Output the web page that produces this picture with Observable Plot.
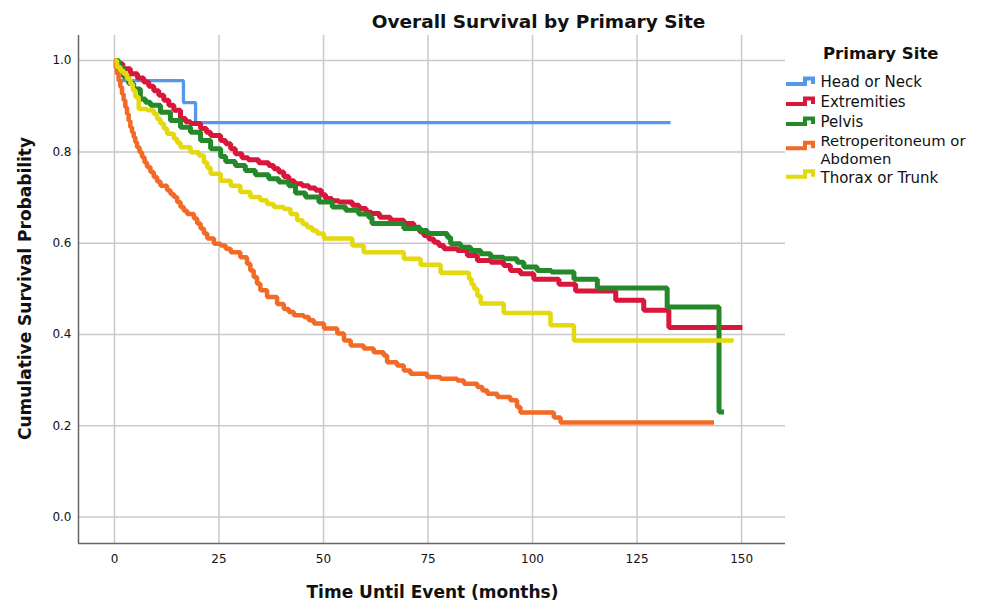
<!DOCTYPE html>
<html>
<head>
<meta charset="utf-8">
<script src="https://cdn.jsdelivr.net/npm/d3@7"></script>
<script src="https://cdn.jsdelivr.net/npm/@observablehq/plot@0.6"></script>
<style>
  html, body { margin: 0; padding: 0; background: #ffffff; }
  #chart { width: 986px; height: 603px; position: relative; }
  #chart svg g[aria-label*="axis"] text { font-family: "DejaVu Sans", sans-serif !important; font-size: 12px !important; fill: #111; }
</style>
</head>
<body>
<div id="chart"></div>
<script>
// ---- Data (months, cumulative survival) ----
const seriesNames = ["Head or Neck", "Extremities", "Pelvis", "Retroperitoneum or Abdomen", "Thorax or Trunk"];
const legendLines = [["Head or Neck"], ["Extremities"], ["Pelvis"], ["Retroperitoneum or", "Abdomen"], ["Thorax or Trunk"]];
const seriesColors = ["#5598e8", "#d9163c", "#25892a", "#f26a26", "#e4d80e"];

const headNeck = [[0,1.0],[1,0.956],[16.5,0.908],[19.4,0.864],[133,0.864]];

const extremities = [[0,1.0],[0.6,0.993],[2,0.982],[3.8,0.971],[5.5,0.962],[7,0.953],[8.2,0.944],[9.4,0.934],
  [10.6,0.924],[11.8,0.913],[13,0.902],[14.2,0.891],[15.8,0.873],[17,0.866],[18.2,0.862],[20.6,0.851],
  [22,0.843],[23,0.836],[25.4,0.825],[26.6,0.818],[27.8,0.807],[28.9,0.796],[30.5,0.787],[32,0.783],
  [34.5,0.776],[36.9,0.770],[38.1,0.763],[39.3,0.756],[40.5,0.746],[41.7,0.737],[43,0.730],[44.9,0.726],
  [46.5,0.721],[48.1,0.716],[49.5,0.706],[50.5,0.698],[52,0.693],[53.7,0.690],[56.9,0.683],[58.5,0.676],
  [60.2,0.668],[61.5,0.665],[63.4,0.657],[66,0.650],[69.2,0.643],[71.6,0.635],[73,0.625],[74,0.617],
  [75.2,0.609],[76.4,0.602],[77.6,0.595],[78.8,0.588],[82,0.584],[84.4,0.573],[86.8,0.562],[90,0.558],
  [93.1,0.551],[94.7,0.540],[97.1,0.533],[100.3,0.521],[106.3,0.510],[110.3,0.495],[119.9,0.475],
  [126.6,0.453],[132.6,0.415],[150.2,0.415]];

const pelvis = [[0,1.0],[1,0.985],[2.2,0.964],[3.4,0.950],[4.6,0.938],[6.2,0.916],[7.4,0.909],[8.6,0.902],
  [11,0.887],[13.4,0.869],[15.8,0.854],[18.2,0.843],[20.6,0.825],[23,0.807],[25.4,0.790],[26.6,0.779],
  [28.9,0.770],[31.3,0.759],[33.7,0.750],[36.9,0.741],[39.3,0.734],[41.7,0.726],[43.3,0.710],[45.7,0.701],
  [48.9,0.690],[52.1,0.679],[55.3,0.672],[58.4,0.664],[60.8,0.657],[61.6,0.643],[69.2,0.632],[73.2,0.628],
  [74.8,0.621],[79.6,0.613],[80.4,0.599],[82.8,0.591],[85.2,0.584],[87.6,0.577],[90,0.569],[93.1,0.566],
  [96.3,0.558],[97.9,0.548],[101.1,0.540],[104.5,0.537],[109.9,0.521],[115.5,0.502],[132.2,0.460],
  [144.6,0.230],[145.8,0.230]];

const retroAbdomen = [[0,1.0],[0.3,0.985],[0.6,0.971],[1,0.956],[1.4,0.942],[1.8,0.927],[2.2,0.913],[2.6,0.898],
  [3,0.883],[3.4,0.868],[3.8,0.854],[4.2,0.843],[4.6,0.832],[5,0.821],[5.4,0.810],[6,0.799],[6.6,0.788],
  [7.2,0.777],[7.8,0.767],[8.6,0.756],[9.4,0.745],[10.2,0.735],[11,0.726],[12.6,0.716],[13.4,0.708],
  [14.2,0.701],[15,0.690],[15.8,0.679],[16.6,0.671],[17.4,0.664],[19,0.654],[19.8,0.643],[20.6,0.632],
  [21.4,0.621],[22.2,0.610],[23.8,0.599],[25.4,0.595],[26.6,0.588],[27.8,0.580],[30.1,0.569],[31.7,0.555],
  [32.5,0.540],[33.3,0.526],[34.1,0.511],[34.9,0.497],[36.5,0.482],[38.9,0.467],[40.5,0.456],[41.7,0.449],
  [42.9,0.442],[45.3,0.438],[46.5,0.431],[47.7,0.424],[50.1,0.413],[53.3,0.402],[54.9,0.387],[56.5,0.376],
  [59.6,0.369],[62,0.361],[64.4,0.354],[65.2,0.339],[67.6,0.332],[69.2,0.321],[70.8,0.314],[74.8,0.307],
  [78,0.303],[82,0.299],[83.6,0.292],[86.8,0.285],[88,0.277],[89.2,0.270],[91.6,0.263],[94.7,0.256],
  [96.3,0.241],[97.1,0.229],[105.1,0.218],[106.7,0.207],[143.4,0.207]];

const thoraxTrunk = [[0,1.0],[0.6,0.986],[1.4,0.978],[2.2,0.971],[3,0.960],[3.8,0.949],[4.4,0.935],[5,0.920],
  [5.8,0.894],[7.8,0.891],[9.4,0.883],[10.2,0.872],[11,0.862],[11.8,0.851],[12.6,0.840],[14.2,0.829],
  [15,0.820],[15.8,0.810],[18.2,0.799],[20.2,0.792],[21.4,0.777],[22.2,0.765],[23,0.752],[25.4,0.737],
  [27.8,0.726],[30.1,0.712],[32.5,0.701],[34.9,0.694],[36.5,0.686],[38.1,0.679],[40.5,0.675],[42.1,0.664],
  [43.7,0.650],[45,0.642],[46.1,0.635],[47.3,0.628],[48.5,0.621],[50.1,0.610],[56.9,0.595],[59.6,0.580],
  [69.2,0.566],[73.2,0.553],[78,0.535],[84.8,0.522],[85.4,0.510],[86,0.500],[86.8,0.484],[87.6,0.468],
  [93.1,0.447],[104.3,0.420],[109.9,0.387],[148.1,0.387]];

const seriesData = [headNeck, extremities, pelvis, retroAbdomen, thoraxTrunk];
const seriesWidths = [3.3, 5, 5, 4.5, 4.5];

const xTicks = [0, 25, 50, 75, 100, 125, 150];
const yTicks = [0.0, 0.2, 0.4, 0.6, 0.8, 1.0];
const xDomain = [-8.6, 160.5];
const yDomain = [-0.058, 1.055];

const titleText = "Overall Survival by Primary Site";
const xLabel = "Time Until Event (months)";
const yLabel = "Cumulative Survival Probability";
const legendTitle = "Primary Site";

// ---- Chart ----
const lineMarks = seriesData.map((s, i) =>
  Plot.line(s, {
    x: d => d[0], y: d => d[1], curve: "step-after",
    stroke: seriesColors[i], strokeWidth: seriesWidths[i],
    strokeLinejoin: "miter", strokeLinecap: "butt"
  })
);

const chart = Plot.plot({
  width: 986, height: 603,
  marginTop: 35, marginRight: 201, marginBottom: 60, marginLeft: 78,
  style: { fontFamily: "DejaVu Sans", fontSize: "12px", color: "#111", background: "#ffffff", overflow: "visible" },
  x: { domain: xDomain, ticks: xTicks, tickSize: 0, tickPadding: 11, label: null },
  y: { domain: yDomain, ticks: yTicks, tickSize: 0, tickPadding: 7, tickFormat: d3.format(".1f"), label: null },
  marks: [
    Plot.ruleX(xTicks, { stroke: "#c9c9c9", strokeWidth: 1.5 }),
    Plot.ruleY(yTicks, { stroke: "#c9c9c9", strokeWidth: 1.5 }),
    Plot.ruleX([xDomain[0]], { stroke: "#666", strokeWidth: 1.5 }),
    Plot.ruleY([yDomain[0]], { stroke: "#666", strokeWidth: 1.5 }),
    ...lineMarks
  ]
});
document.getElementById("chart").appendChild(chart);

// ---- Title, axis labels, legend ----
const svg = d3.select(chart);
function addText(parent, txt, x, y, size, bold, anchor) {
  return parent.append("text").text(txt)
    .attr("x", x).attr("y", y)
    .attr("text-anchor", anchor)
    .style("text-anchor", anchor)
    .style("font-family", "DejaVu Sans, sans-serif")
    .style("font-size", size + "px")
    .style("font-weight", bold ? "bold" : "normal")
    .attr("fill", "#111");
}
addText(svg, titleText, 538.5, 28, 18.5, true, "middle");
addText(svg, xLabel, 432.5, 598, 17, true, "middle");
addText(svg, yLabel, 0, 0, 17, true, "middle").attr("transform", "translate(31,288.5) rotate(-90)");

const leg = svg.append("g");
addText(leg, legendTitle, 823, 59, 16.5, true, "start");
const textBaselines = [[87.3], [106.7], [126.7], [145.5, 163.5], [182.7]];
const swatchLow = [84, 104, 124, 148.3, 176.7];
legendLines.forEach((lines, i) => {
  const lo = swatchLow[i], hi = lo - 5.5;
  leg.append("path")
    .attr("d", `M786,${lo}H805V${hi}H813V${lo}`)
    .attr("fill", "none").attr("stroke", seriesColors[i]).attr("stroke-width", 4)
    .attr("stroke-linejoin", "miter");
  lines.forEach((t, j) => addText(leg, t, 820.5, textBaselines[i][j], lines.length > 1 ? 14.8 : 15, false, "start"));
});
</script>
</body>
</html>
